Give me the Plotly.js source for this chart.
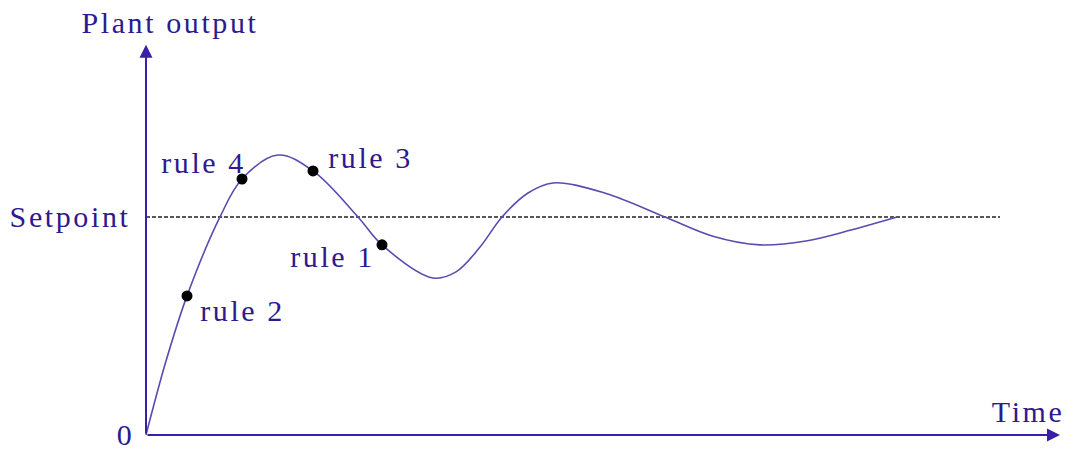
<!DOCTYPE html>
<html>
<head>
<meta charset="utf-8">
<script src="https://cdn.plot.ly/plotly-3.0.1.min.js"></script>
<style>
html,body{margin:0;padding:0;background:#fff}
#chart{width:1075px;height:452px}
#chart .annotation-text{letter-spacing:2.6px}
</style>
</head>
<body>
<div id="chart"></div>
<script>
// Step response of the plant (time in arbitrary units, output relative to setpoint = 1)
const time   = [0, 0.20, 0.41, 0.74, 0.96, 1.32, 1.67, 2.12, 2.36, 2.87, 3.10, 3.34, 3.56, 3.82, 4.07, 4.60, 5.19, 5.66, 6.14, 6.60, 7.05, 7.51];
const output = [0, 0.339, 0.638, 1.0, 1.174, 1.284, 1.211, 1.0, 0.872, 0.720, 0.748, 0.862, 1.0, 1.110, 1.156, 1.108, 1.0, 0.913, 0.872, 0.890, 0.940, 1.0];

// Inference rule checkpoints on the curve
const ruleNames  = ['rule 1', 'rule 2', 'rule 3', 'rule 4'];
const ruleTime   = [2.36, 0.41, 1.67, 0.96];
const ruleOutput = [0.872, 0.638, 1.211, 1.174];

const setpoint = 1.0;
const setpointEnd = 8.54;
const axisEndX = 9.14;
const axisEndY = 1.79;

const axisColor = '#3b1ea6';
const curveColor = '#5a4bb0';
const textColor = '#2c1a8e';
const font = {family: 'Liberation Serif, Times New Roman, serif', size: 30, color: textColor};

const traces = [
  {x: [0, setpointEnd], y: [setpoint, setpoint], mode: 'lines',
   line: {color: '#222', width: 1.6, dash: '4px,2px'}, hoverinfo: 'skip'},
  {x: time, y: output, mode: 'lines',
   line: {color: curveColor, width: 1.6, shape: 'spline', smoothing: 1}, hoverinfo: 'skip'},
  {x: ruleTime, y: ruleOutput, mode: 'markers', text: ruleNames,
   marker: {color: '#000', size: 11}, hoverinfo: 'text'}
];

// label offsets (data units) relative to each rule point
const labelDx = [-0.50, 0.55, 0.57, -0.39];
const labelDy = [-0.055, -0.065, 0.06, 0.078];

const annotations = [
  {x: axisEndX, y: 0, ax: 0, ay: 0, axref: 'x', ayref: 'y', xref: 'x', yref: 'y', text: '',
   showarrow: true, arrowhead: 2, arrowsize: 1.3, arrowwidth: 2, arrowcolor: axisColor, standoff: 0},
  {x: 0, y: axisEndY, ax: 0, ay: 0, axref: 'x', ayref: 'y', xref: 'x', yref: 'y', text: '',
   showarrow: true, arrowhead: 2, arrowsize: 1.3, arrowwidth: 2, arrowcolor: axisColor, standoff: 0},
  {x: 0.24, y: 1.894, xref: 'x', yref: 'y', text: 'Plant output', showarrow: false, font: font},
  {x: -0.76, y: setpoint, xref: 'x', yref: 'y', text: 'Setpoint', showarrow: false, font: font},
  {x: -0.21, y: -0.078, xref: 'x', yref: 'y', yanchor: 'bottom', borderpad: 0,
   text: '0', showarrow: false, font: font},
  {x: 8.82, y: 0.110, xref: 'x', yref: 'y', text: 'Time', showarrow: false, font: font}
];
ruleNames.forEach((n, i) => {
  annotations.push({x: ruleTime[i] + labelDx[i], y: ruleOutput[i] + labelDy[i], xref: 'x', yref: 'y',
    text: n, showarrow: false, font: font});
});

const layout = {
  width: 1075, height: 452,
  margin: {l: 0, r: 0, t: 0, b: 0},
  paper_bgcolor: '#fff', plot_bgcolor: '#fff',
  showlegend: false,
  xaxis: {range: [-1.46, 9.29], visible: false, fixedrange: true},
  yaxis: {range: [-0.078, 1.995], visible: false, fixedrange: true},
  annotations: annotations
};

Plotly.newPlot('chart', traces, layout, {displayModeBar: false, staticPlot: true});
</script>
</body>
</html>
